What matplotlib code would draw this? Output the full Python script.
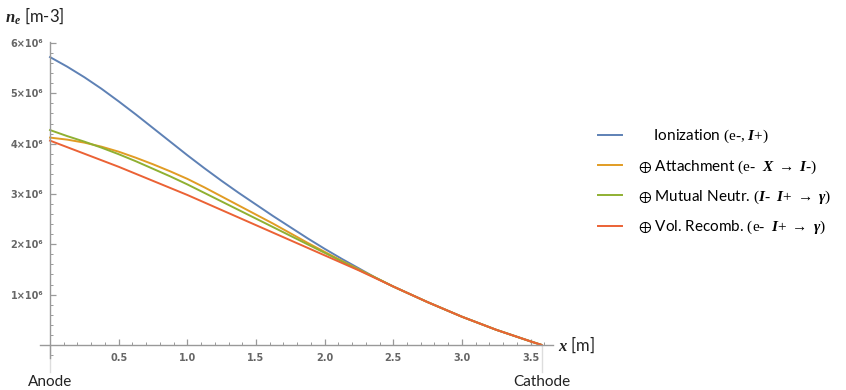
import matplotlib
matplotlib.use("Agg")
import matplotlib.pyplot as plt
from matplotlib.ticker import FixedLocator, MultipleLocator

plt.rcParams['font.family'] = ['Lato', 'DejaVu Sans']
plt.rcParams['mathtext.fontset'] = 'custom'
plt.rcParams['mathtext.rm'] = 'Liberation Serif'
plt.rcParams['mathtext.it'] = 'Liberation Serif:italic'
plt.rcParams['mathtext.bf'] = 'Liberation Serif:bold'
plt.rcParams['mathtext.bfit'] = 'Liberation Serif:italic:bold'
plt.rcParams['mathtext.fallback'] = 'stix'

# position along the gap [m]
x_m = [0.0, 0.125, 0.25, 0.375, 0.5, 0.625, 0.75, 0.875, 1.0, 1.125, 1.25, 1.375, 1.5,
       1.625, 1.75, 1.875, 2.0, 2.125, 2.25, 2.375, 2.5, 2.75, 3.0, 3.25, 3.5, 3.58]
# electron density, units of 1e6 m^-3
ion = [5.72, 5.53, 5.32, 5.09, 4.84, 4.58, 4.31, 4.04, 3.77, 3.51, 3.26, 3.02, 2.79,
       2.56, 2.34, 2.12, 1.91, 1.71, 1.52, 1.33, 1.16, 0.85, 0.56, 0.30, 0.07, 0.0]
att = [4.12, 4.08, 4.02, 3.94, 3.84, 3.72, 3.59, 3.45, 3.30, 3.13, 2.95, 2.77, 2.59,
       2.41, 2.22, 2.03, 1.85, 1.67, 1.50, 1.33, 1.16, 0.85, 0.56, 0.30, 0.07, 0.0]
mut = [4.27, 4.15, 4.04, 3.92, 3.79, 3.65, 3.50, 3.35, 3.19, 3.02, 2.85, 2.68, 2.51,
       2.34, 2.17, 2.00, 1.83, 1.66, 1.49, 1.33, 1.16, 0.85, 0.56, 0.30, 0.07, 0.0]
rec = [4.06, 3.93, 3.80, 3.67, 3.54, 3.40, 3.26, 3.12, 2.98, 2.83, 2.68, 2.53, 2.38,
       2.23, 2.08, 1.93, 1.78, 1.63, 1.48, 1.32, 1.16, 0.85, 0.56, 0.30, 0.07, 0.0]

labels = [
    r"    Ionization $\text{(e-, }\mathbfit{I}\text{+)}$",
    r"$\oplus$ Attachment $\text{(e-  }\mathbfit{X}\ \rightarrow\ \mathbfit{I}\text{-)}$",
    r"$\oplus$ Mutual Neutr. $(\mathbfit{I}\text{-  }\mathbfit{I}\text{+}\ \rightarrow\ \mathbfit{\gamma})$",
    r"$\oplus$ Vol. Recomb. $\text{(e-  }\mathbfit{I}\text{+}\ \rightarrow\ \mathbfit{\gamma})$",
]
colors = ['#5E81B5', '#E19C24', '#8FB032', '#EB6235']
x_ticks = [0.5, 1.0, 1.5, 2.0, 2.5, 3.0, 3.5]
y_ticks = [1, 2, 3, 4, 5, 6]
x_cathode = 3.58

W, H = 846, 390
fig = plt.figure(figsize=(W / 100, H / 100), dpi=100)
ax = fig.add_axes([40 / W, 1 - 358 / H, (553 - 40) / W, (358 - 42) / H])

for ys, c, lab in zip([ion, att, mut, rec], colors, labels):
    ax.plot(x_m, [v * 1e6 for v in ys], color=c, lw=1.4, label=lab)

ax.set_xlim(-0.073, 3.663)
ax.set_ylim(-0.26e6, 6.02e6)

gray = '#999999'
for s in ['top', 'right']:
    ax.spines[s].set_visible(False)
ax.spines['left'].set_position(('data', 0))
ax.spines['bottom'].set_position(('data', 0))
for s in ['left', 'bottom']:
    ax.spines[s].set_color(gray)
    ax.spines[s].set_linewidth(1.0)

ax.xaxis.set_major_locator(FixedLocator(x_ticks))
ax.xaxis.set_minor_locator(MultipleLocator(0.1))
ax.yaxis.set_major_locator(FixedLocator([v * 1e6 for v in y_ticks]))
ax.yaxis.set_minor_locator(MultipleLocator(0.2e6))
ax.set_xticklabels(["%.1f" % t for t in x_ticks])
ax.set_yticklabels(["%d\u00d710\u2076" % t for t in y_ticks])
ax.tick_params(which='both', direction='in', color=gray, labelcolor='#666666',
               labelsize=7)
ax.tick_params(which='major', length=4, width=0.9)
ax.tick_params(which='minor', length=2.5, width=0.7)
ax.tick_params(axis='x', pad=6)
ax.tick_params(axis='y', pad=5)
for t in ax.get_xticklabels() + ax.get_yticklabels():
    t.set_fontweight('bold')
    t.set_family('DejaVu Sans')

# electrode markers
for xe, name in [(0, 'Anode'), (x_cathode, 'Cathode')]:
    ax.plot([xe, xe], [0, -0.54e6], color='#dddddd', lw=1.0, clip_on=False)
    ax.text(xe, -0.73e6, name, ha='center', va='center', fontsize=11, color='#222222')

fig.text(5 / W, 1 - 16 / H, r"$\mathbfit{n}_{\mathbfit{e}}$ [m-3]", fontsize=12,
         ha='left', va='center', color='#222222')
ax.text(3.70, 0, r"$\mathbfit{x}$ [m]", fontsize=12, ha='left', va='center', color='#222222')

fig.legend(loc='upper left', bbox_to_anchor=(598 / W, 1 - 128 / H), frameon=False,
           fontsize=11, handlelength=1.6, handletextpad=1.0, labelspacing=0.85,
           borderaxespad=0, borderpad=0)

fig.savefig("out.png", dpi=100)
